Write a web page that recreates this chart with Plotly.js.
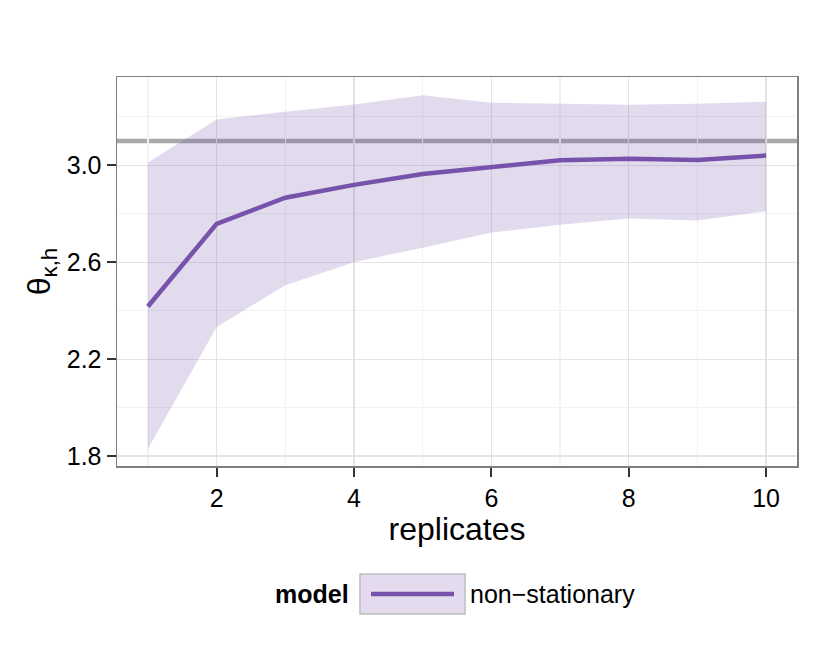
<!DOCTYPE html>
<html>
<head>
<meta charset="utf-8">
<script src="https://cdn.plot.ly/plotly-3.0.1.min.js"></script>
<style>
  body { margin: 0; background: #fff; }
  #chart { width: 830px; height: 664px; }
</style>
</head>
<body>
<div id="chart"></div>
<script>
// values
const replicates = [1, 2, 3, 4, 5, 6, 7, 8, 9, 10];
const estimate = [2.417, 2.758, 2.866, 2.919, 2.964, 2.994, 3.020, 3.027, 3.022, 3.040];
const upper = [3.011, 3.189, 3.221, 3.251, 3.289, 3.258, 3.254, 3.250, 3.254, 3.262];
const lower = [1.829, 2.332, 2.505, 2.600, 2.660, 2.722, 2.754, 2.780, 2.772, 2.810];
const trueValue = 3.1;
const seriesName = 'non\u2212stationary';

const purple = '#7652aa';
const band = 'rgba(118,82,170,0.21)';
const font = 'Liberation Sans, Arial, sans-serif';

// ribbon: lower edge then upper edge filled to it
const lowerTrace = {
  x: replicates, y: lower, type: 'scatter', mode: 'lines',
  line: {width: 0, color: band}, hoverinfo: 'skip', showlegend: false
};
const upperTrace = {
  x: replicates, y: upper, type: 'scatter', mode: 'lines',
  fill: 'tonexty', fillcolor: band,
  line: {width: 0, color: band}, hoverinfo: 'skip', showlegend: false
};
const lineTrace = {
  x: replicates, y: estimate, type: 'scatter', mode: 'lines',
  name: seriesName, line: {color: purple, width: 4.5}, showlegend: false
};

const layout = {
  width: 830, height: 664,
  margin: {l: 117, r: 33, t: 77, b: 198},
  paper_bgcolor: '#fff', plot_bgcolor: '#fff',
  font: {family: font, color: '#000'},
  showlegend: false,
  xaxis: {
    range: [0.55, 10.45], tick0: 0, dtick: 2,
    showgrid: true, gridcolor: '#e3e3e3', gridwidth: 1.2,
    minor: {dtick: 1, showgrid: true, gridcolor: '#f2f2f2', gridwidth: 1.2},
    zeroline: false,
    ticks: 'outside', ticklen: 9, tickwidth: 2, tickcolor: '#333',
    tickfont: {size: 25, color: '#000'},
    showline: true, linecolor: '#7f7f7f', linewidth: 1.5, mirror: true,
    title: {text: 'replicates', font: {size: 32, color: '#000'}, standoff: 2}
  },
  yaxis: {
    range: [1.759, 3.364], tick0: 1.8, dtick: 0.4, tickformat: '.1f',
    showgrid: true, gridcolor: '#e3e3e3', gridwidth: 1.2,
    minor: {tick0: 1.8, dtick: 0.2, showgrid: true, gridcolor: '#f2f2f2', gridwidth: 1.2},
    zeroline: false,
    ticks: 'outside', ticklen: 9, tickwidth: 2, tickcolor: '#333',
    tickfont: {size: 25, color: '#000'},
    showline: true, linecolor: '#7f7f7f', linewidth: 1.5, mirror: true,
    title: {text: '\u03b8<sub>\u03ba,h</sub>', font: {size: 32, color: '#000'}, standoff: 6}
  },
  shapes: [
    {type: 'line', xref: 'paper', yref: 'y', x0: 0, x1: 1, y0: trueValue, y1: trueValue,
     line: {color: 'rgba(140,140,140,0.75)', width: 4.5}, layer: 'below'},
    // legend key
    {type: 'rect', xref: 'paper', yref: 'paper',
     x0: (360 - 117) / 680, x1: (465 - 117) / 680, y0: -(614 - 466) / 389, y1: -(574 - 466) / 389,
     fillcolor: 'rgba(118,82,170,0.2)', line: {color: '#bdbdbd', width: 1.5}},
    {type: 'line', xref: 'paper', yref: 'paper',
     x0: (371 - 117) / 680, x1: (454 - 117) / 680, y0: -(594 - 466) / 389, y1: -(594 - 466) / 389,
     line: {color: purple, width: 4.5}}
  ],
  annotations: [
    {xref: 'paper', yref: 'paper', x: (351 - 117) / 680, y: -(594 - 466) / 389,
     xanchor: 'right', yanchor: 'middle', showarrow: false,
     text: '<b>model</b>', font: {size: 25, color: '#000'}},
    {xref: 'paper', yref: 'paper', x: (468 - 117) / 680, y: -(594 - 466) / 389,
     xanchor: 'left', yanchor: 'middle', showarrow: false,
     text: seriesName, font: {size: 25, color: '#000'}}
  ]
};

Plotly.newPlot('chart', [lowerTrace, upperTrace, lineTrace], layout, {displayModeBar: false, staticPlot: true});
</script>
</body>
</html>
